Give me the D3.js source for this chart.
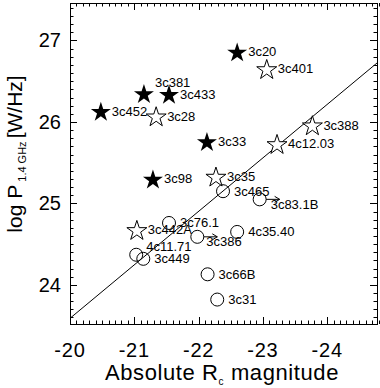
<!DOCTYPE html>
<html>
<head>
<meta charset="utf-8">
<script src="https://cdn.jsdelivr.net/npm/d3@7"></script>
<style>
  body { margin: 0; background: #fff; }
  svg { display: block; }
  text { font-family: "Liberation Sans", Arial, Helvetica, sans-serif; fill: #000; }
</style>
</head>
<body>
<div id="chart"></div>
<script>
// filled stars
let filledNames = ["3c20", "3c381", "3c433", "3c452", "3c33", "3c98"]
let filledMag = [-22.60, -21.15, -21.54, -20.48, -22.13, -21.29]
let filledLogP = [26.86, 26.35, 26.34, 26.13, 25.76, 25.30]

// open stars
let openNames = ["3c28", "3c401", "3c388", "4c12.03", "3c35", "3c442A"]
let openMag = [-21.34, -23.06, -23.77, -23.22, -22.27, -21.04]
let openLogP = [26.07, 26.65, 25.96, 25.73, 25.33, 24.675]

// open circles
let circleNames = ["3c465", "3c83.1B", "4c35.40", "3c386", "3c76.1", "4c11.71", "3c449", "3c66B", "3c31"]
let circleMag = [-22.38, -22.95, -22.60, -21.98, -21.54, -21.03, -21.14, -22.14, -22.29]
let circleLogP = [25.15, 25.05, 24.65, 24.59, 24.76, 24.37, 24.32, 24.13, 23.82]

// points with an arrow (lower limit on brightness)
let arrowNames = ["3c83.1B", "3c386"]

// fitted line end points
let fitMag = [-20, -24.8]
let fitLogP = [23.59, 26.74]

let xTicks = [-20, -21, -22, -23, -24]
let yTicks = [24, 25, 26, 27]

// label placement tweaks (pixels)
let labelShift = {
  "3c381": [11, -11],
  "4c11.71": [10, -8],
  "3c386": [9, 5],
  "3c83.1B": [11, 5]
}

const W = 380, H = 388
const pLeft = 70, pRight = 377, pTop = 3, pBottom = 324

const x = d3.scaleLinear().domain([-20, -24.775]).range([pLeft, pRight])
const y = d3.scaleLinear().domain([23.52, 27.46]).range([pBottom, pTop])

const svg = d3.select("#chart").append("svg").attr("width", W).attr("height", H)

svg.append("clipPath").attr("id", "clip")
  .append("rect").attr("x", pLeft).attr("y", pTop).attr("width", pRight - pLeft).attr("height", pBottom - pTop)

// frame
svg.append("rect").attr("x", pLeft + 0.5).attr("y", pTop + 0.5).attr("width", pRight - pLeft).attr("height", pBottom - pTop)
  .attr("fill", "none").attr("stroke", "#000").attr("stroke-width", 1)

// ticks on all four sides, pointing inwards
const xMinor = d3.range(-20, -24.8, -0.1).map(v => +v.toFixed(1))
const yMinor = d3.range(23.6, 27.46, 0.1).map(v => +v.toFixed(1))
const ticks = svg.append("g").attr("stroke", "#000").attr("stroke-width", 1)
xMinor.forEach(v => {
  let len = xTicks.includes(v) ? 7 : 3.5
  let px = Math.round(x(v)) + 0.5
  ticks.append("line").attr("x1", px).attr("x2", px).attr("y1", pBottom).attr("y2", pBottom - len)
  ticks.append("line").attr("x1", px).attr("x2", px).attr("y1", pTop).attr("y2", pTop + len)
})
yMinor.forEach(v => {
  let len = yTicks.includes(v) ? 7 : 3.5
  let py = Math.round(y(v)) + 0.5
  ticks.append("line").attr("y1", py).attr("y2", py).attr("x1", pLeft).attr("x2", pLeft + len)
  ticks.append("line").attr("y1", py).attr("y2", py).attr("x1", pRight).attr("x2", pRight - len)
})

// tick labels
svg.append("g").selectAll("text").data(xTicks).join("text")
  .attr("x", d => x(d)).attr("y", 357)
  .attr("text-anchor", "middle").attr("font-size", 20).attr("letter-spacing", 0.8)
  .text(d => d)
svg.append("g").selectAll("text").data(yTicks).join("text")
  .attr("x", 61).attr("y", d => y(d) + 7)
  .attr("text-anchor", "end").attr("font-size", 20)
  .text(d => d)

// axis titles
const xt = svg.append("text").attr("x", 222).attr("y", 380)
  .attr("text-anchor", "middle").attr("font-size", 22).attr("letter-spacing", 0.6)
xt.append("tspan").text("Absolute R")
xt.append("tspan").attr("font-size", 10).attr("dy", 5).text("c")
xt.append("tspan").attr("dy", -5).text(" magnitude")

const yt = svg.append("text").attr("transform", "translate(22,154) rotate(-90)")
  .attr("text-anchor", "middle").attr("font-size", 21)
yt.append("tspan").text("log P")
yt.append("tspan").attr("font-size", 11).attr("dy", 4).text(" 1.4 GHz ")
yt.append("tspan").attr("dy", -4).text("[W/Hz]")

// regression line
svg.append("line").attr("clip-path", "url(#clip)")
  .attr("x1", x(fitMag[0])).attr("y1", y(fitLogP[0]))
  .attr("x2", x(fitMag[1])).attr("y2", y(fitLogP[1]))
  .attr("stroke", "#000").attr("stroke-width", 1)

const starPath = (R) => {
  let r = R * 0.382, pts = []
  for (let i = 0; i < 10; i++) {
    let a = -Math.PI / 2 + i * Math.PI / 5
    let rr = i % 2 ? r : R
    pts.push([rr * Math.cos(a), rr * Math.sin(a)])
  }
  return "M" + pts.map(p => p[0].toFixed(2) + "," + p[1].toFixed(2)).join("L") + "Z"
}

const makeRows = (names, mags, logPs) => names.map((n, i) => ({ name: n, mag: mags[i], logP: logPs[i] }))
const filled = makeRows(filledNames, filledMag, filledLogP)
const open = makeRows(openNames, openMag, openLogP)
const circles = makeRows(circleNames, circleMag, circleLogP)

// arrows
const arrowRows = circles.filter(d => arrowNames.includes(d.name))
const ag = svg.append("g").attr("stroke", "#000").attr("stroke-width", 1).attr("fill", "none")
arrowRows.forEach(d => {
  let cx = x(d.mag), cy = y(d.logP)
  ag.append("line").attr("x1", cx + 6.5).attr("y1", cy).attr("x2", cx + 20).attr("y2", cy)
  ag.append("path").attr("d", `M${cx + 15},${cy - 3}L${cx + 20},${cy}L${cx + 15},${cy + 3}`)
})

svg.append("g").selectAll("circle").data(circles).join("circle")
  .attr("cx", d => x(d.mag)).attr("cy", d => y(d.logP)).attr("r", 6.5)
  .attr("fill", "none").attr("stroke", "#000").attr("stroke-width", 1)

svg.append("g").selectAll("path").data(open).join("path")
  .attr("d", starPath(10.5))
  .attr("transform", d => `translate(${x(d.mag)},${y(d.logP) + 1})`)
  .attr("fill", "#fff").attr("stroke", "#000").attr("stroke-width", 1)

svg.append("g").selectAll("path").data(filled).join("path")
  .attr("d", starPath(10.5))
  .attr("transform", d => `translate(${x(d.mag)},${y(d.logP) + 1})`)
  .attr("fill", "#000")

// labels
svg.append("g").selectAll("text").data(filled.concat(open, circles)).join("text")
  .attr("x", d => x(d.mag) + (labelShift[d.name] ? labelShift[d.name][0] : 11))
  .attr("y", d => y(d.logP) + 4.5 + (labelShift[d.name] ? labelShift[d.name][1] : 0))
  .attr("font-size", 13)
  .text(d => d.name)
</script>
</body>
</html>
